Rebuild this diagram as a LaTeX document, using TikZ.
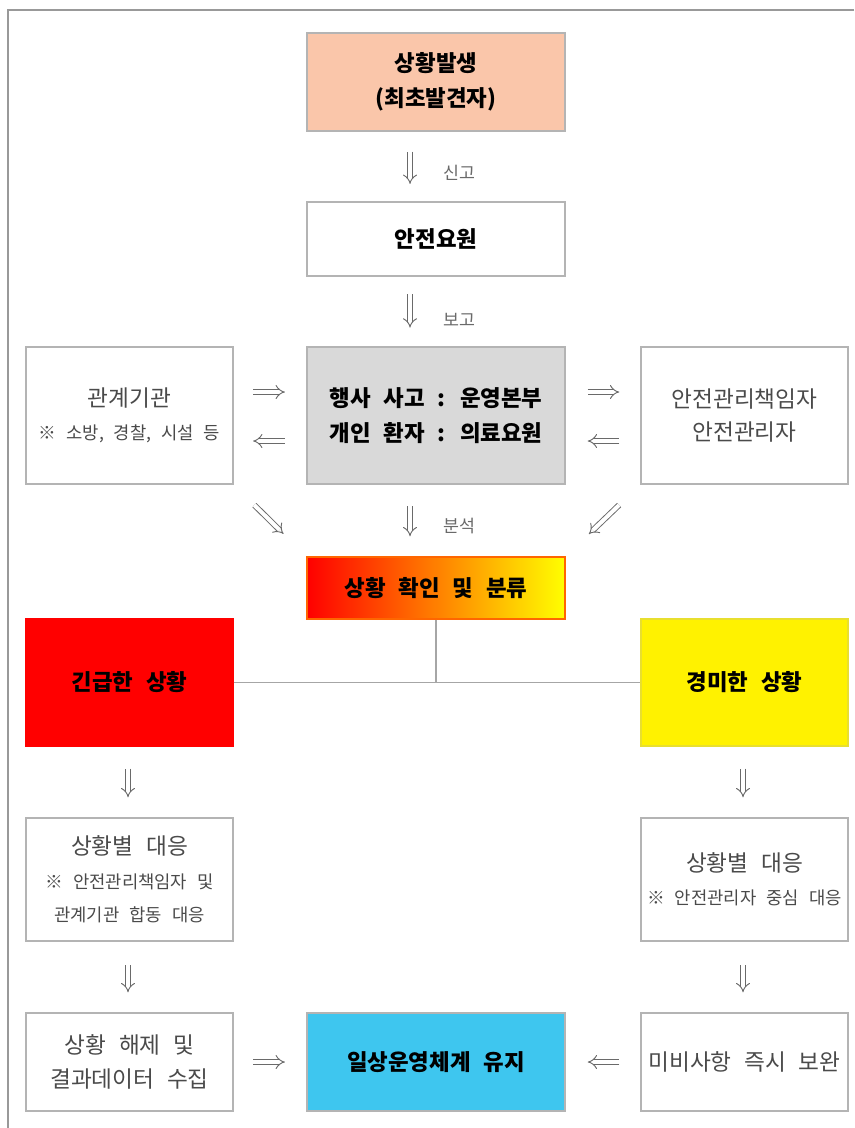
\documentclass[tikz,border=0pt]{standalone}
\usepackage{fontspec}
\setmainfont{Noto Sans CJK KR}[WordSpace=2.5]
\usetikzlibrary{arrows.meta,calc}
\definecolor{peach}{HTML}{FAC6AA}
\definecolor{boxgray}{HTML}{D9D9D9}
\definecolor{skyb}{HTML}{3EC6EF}
\definecolor{bord}{HTML}{B4B4B4}
\definecolor{txtg}{HTML}{4A4A4A}
\definecolor{arrg}{HTML}{6A6A6A}
\newcommand\notefont{\fontsize{13.3}{22}\selectfont}
\begin{document}
\begin{tikzpicture}[x=0.75pt,y=-0.75pt,
  box/.style={draw=bord, line width=1.1pt, align=center, inner sep=0pt, text=txtg,
    font=\fontsize{17}{25}\selectfont},
  cbox/.style={box, minimum width=193.5pt},
  sbox/.style={box, minimum width=155.25pt},
  bold/.style={text=black, font=\fontsize{16.8}{26}\selectfont\bfseries},
  dar/.style={draw=arrg, line width=0.7pt, double distance=3pt, -{Implies}},
  lbl/.style={text=arrg, font=\fontsize{13}{15}\selectfont, inner sep=0pt},
  conn/.style={draw=gray!70, line width=0.9pt}]
\useasboundingbox (0,0) rectangle (854,1128);
\draw[draw=gray!80, line width=0.8pt] (854,10) -- (8,10) -- (8,1128);

% nodes
\node[cbox, fill=peach, minimum height=73.5pt, bold] (b1) at (436,82) {상황발생\\(최초발견자)};
\node[cbox, minimum height=55.5pt, bold] (b2) at (436,239) {안전요원};
\node[sbox, minimum height=102.75pt] (L) at (129.5,415.5) {관계기관\\\notefont ※ 소방, 경찰, 시설 등};
\node[cbox, fill=boxgray, minimum height=102.75pt, bold] (C) at (436,415.5) {행사 사고 : 운영본부\\개인 환자 : 의료요원};
\node[sbox, minimum height=102.75pt] (R) at (744.5,415.5) {안전관리책임자\\안전관리자};
\node[cbox, minimum height=46.5pt, left color=red, right color=yellow, draw=orange!80!red, bold] (G) at (436,588) {상황 확인 및 분류};
\node[sbox, fill=red, draw=red, minimum height=95.25pt, bold] (E) at (129.5,682.5) {긴급한 상황};
\node[sbox, fill=yellow, draw=yellow!80!gray, minimum height=95.25pt, bold] (M) at (744.5,682.5) {경미한 상황};
\node[sbox, minimum height=92.25pt] (EL) at (129.5,879.5) {상황별 대응\\\notefont ※ 안전관리책임자 및\\\notefont 관계기관 합동 대응};
\node[sbox, minimum height=92.25pt] (ML) at (744.5,879.5) {상황별 대응\\\notefont ※ 안전관리자 중심 대응};
\node[sbox, minimum height=73.5pt] (BL) at (129.5,1062) {상황 해제 및\\결과데이터 수집};
\node[cbox, fill=skyb, minimum height=73.5pt, bold] (BC) at (436,1062) {일상운영체계 유지};
\node[sbox, minimum height=73.5pt] (BR) at (744.5,1062) {미비사항 즉시 보완};

% vertical arrows with labels
\draw[dar, shorten <=15pt, shorten >=13pt] ($(b1.south)+(-26,0)$) -- ($(b2.north)+(-26,0)$);
\node[lbl] (l1) at ($(b1.south)+(23,41)$) {신고};
\draw[dar, shorten <=13pt, shorten >=14pt] ($(b2.south)+(-26,0)$) -- ($(C.north)+(-26,0)$);
\node[lbl] (l2) at ($(b2.south)+(23,43)$) {보고};
\draw[dar, shorten <=16pt, shorten >=15pt] ($(C.south)+(-26,0)$) -- ($(G.north)+(-26,0)$);
\node[lbl] (l3) at ($(C.south)+(23,41)$) {분석};

% horizontal arrows middle row
\draw[dar, shorten <=14.5pt, shorten >=16pt] ($(L.east)+(0,-23.5)$) -- ($(C.west)+(0,-23.5)$);
\draw[dar, shorten <=16pt, shorten >=14.5pt] ($(C.west)+(0,25.5)$) -- ($(L.east)+(0,25.5)$);
\draw[dar, shorten <=16.5pt, shorten >=15.75pt] ($(C.east)+(0,-23.5)$) -- ($(R.west)+(0,-23.5)$);
\draw[dar, shorten <=15.75pt, shorten >=16.5pt] ($(R.west)+(0,25.5)$) -- ($(C.east)+(0,25.5)$);

% diagonal arrows
\draw[dar, shorten <=21.75pt, shorten >=24pt] (L.south east) -- (G.north west);
\draw[dar, shorten <=22pt, shorten >=24pt] (R.south west) -- (G.north east);

% classification lines
\draw[conn] (G.south) -- (G.south |- E.east);
\draw[conn] (E.east) -- (M.west);

% lower vertical arrows
\draw[dar, shorten <=16.5pt, shorten >=15pt] ($(E.south)+(-1.5,0)$) -- ($(EL.north)+(-1.5,0)$);
\draw[dar, shorten <=16.5pt, shorten >=15pt] ($(M.south)+(-1.5,0)$) -- ($(ML.north)+(-1.5,0)$);
\draw[dar, shorten <=17.5pt, shorten >=15pt] ($(EL.south)+(-1.5,0)$) -- ($(BL.north)+(-1.5,0)$);
\draw[dar, shorten <=17.5pt, shorten >=15pt] ($(ML.south)+(-1.5,0)$) -- ($(BR.north)+(-1.5,0)$);

% bottom horizontal arrows
\draw[dar, shorten <=14.5pt, shorten >=16pt] (BL.east) -- (BC.west);
\draw[dar, shorten <=15.75pt, shorten >=16.5pt] (BR.west) -- (BC.east);
\end{tikzpicture}
\end{document}
